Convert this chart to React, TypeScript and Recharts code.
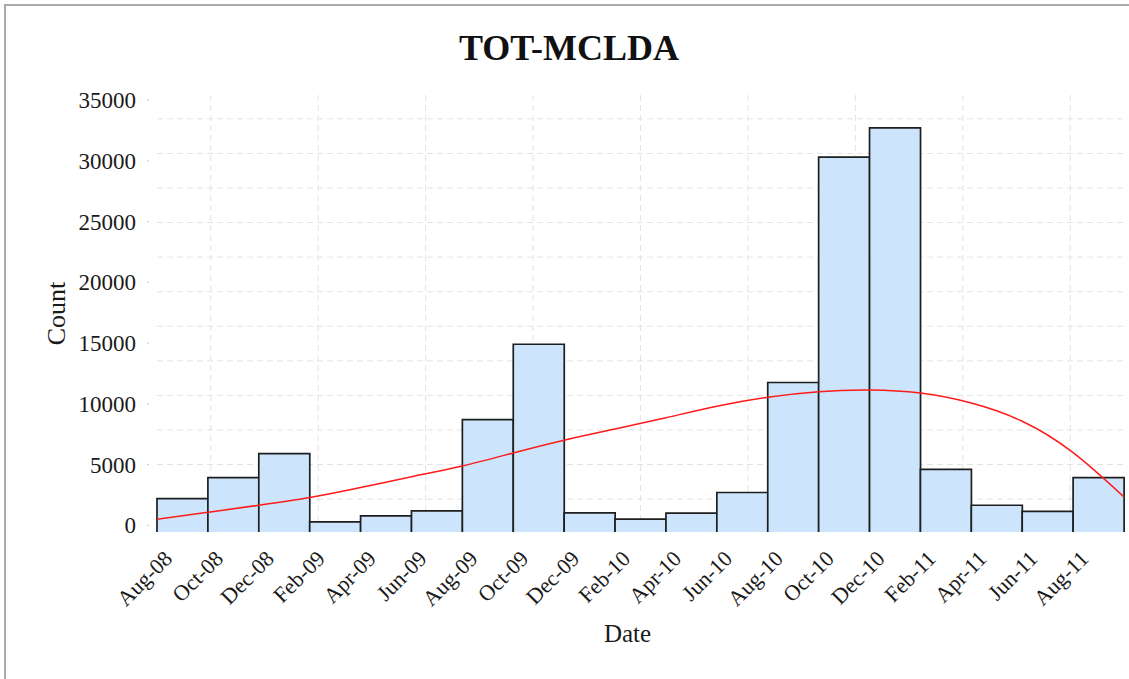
import React from 'react';
import { ComposedChart, Bar, Line, XAxis, YAxis, CartesianGrid, Label } from 'recharts';

// Bi-monthly bins (label = start of each two-month bin)
const periods = [
  'Aug-08', 'Oct-08', 'Dec-08', 'Feb-09', 'Apr-09', 'Jun-09', 'Aug-09', 'Oct-09', 'Dec-09', 'Feb-10',
  'Apr-10', 'Jun-10', 'Aug-10', 'Oct-10', 'Dec-10', 'Feb-11', 'Apr-11', 'Jun-11', 'Aug-11',
];
const counts = [
  2200, 3930, 5900, 280, 770, 1180, 8700, 14900, 1030, 500,
  1000, 2700, 11750, 30300, 32700, 4600, 1650, 1150, 3930,
];

// Fitted trend curve, sampled at the bin boundaries (0 = start of Aug-08)
const trendPositions = [0, 1, 2, 3, 4, 5, 6, 7, 8, 9, 10, 11, 12, 13, 14, 15, 16, 17, 18, 19];
const trendValues = [
  494, 1071, 1650, 2282, 3105, 4000, 4885, 5956, 7002, 7920,
  8850, 9800, 10540, 11000, 11130, 10880, 10060, 8560, 5980, 2330,
];

const binEdgeTicks = [0, 1, 2, 3, 4, 5, 6, 7, 8, 9, 10, 11, 12, 13, 14, 15, 16, 17, 18];
const countTicks = [0, 5000, 10000, 15000, 20000, 25000, 30000, 35000];
const countDomain = [-552, 35412];
const gridCountValues = [2155, 5000, 7845, 10690, 13535, 16380, 19225, 22070, 24915, 27760, 30605, 33450];
const gridPosValues = [1.056, 3.167, 5.278, 7.389, 9.5, 11.611, 13.722, 15.833, 17.944];

const barData = periods.map((p, i) => ({ period: p, count: counts[i] }));
const trendData = trendPositions.map((pos, i) => ({ pos, trend: trendValues[i] }));

const SERIF = "'Times New Roman', 'Liberation Serif', serif";
const TEXT = '#1a1a1a';

// Histogram column: filled down to the plot floor, outlined on top and sides
const HistBar = (props: any) => {
  const { x, y, width, height, background } = props;
  const bottom = background ? background.y + background.height : y + height;
  return (
    <g>
      <rect x={x} y={y} width={width} height={bottom - y} fill="#cce4fc" />
      <path
        d={`M${x},${bottom}V${y}H${x + width}V${bottom}`}
        fill="none"
        stroke="#1e1e1e"
        strokeWidth={1.7}
      />
    </g>
  );
};

const XTick = (props: any) => {
  const { x, y, payload } = props;
  const ax = x + 16.6;
  const ay = y - 2;
  return (
    <text
      x={ax}
      y={ay}
      textAnchor="end"
      transform={`rotate(-45 ${ax} ${ay})`}
      fontFamily={SERIF}
      fontSize={22}
      fill={TEXT}
    >
      {periods[payload.value]}
    </text>
  );
};

const YTick = (props: any) => {
  const { x, y, payload } = props;
  return (
    <g>
      <text
        x={x - 21}
        y={y}
        dy="0.35em"
        textAnchor="end"
        fontFamily={SERIF}
        fontSize={23}
        fill={TEXT}
      >
        {payload.value}
      </text>
      <rect x={x - 9.5} y={y - 0.5} width={1.2} height={1.2} fill="#b0b0b0" />
    </g>
  );
};

export default function App() {
  return (
    <div
      style={{
        position: 'absolute',
        left: 0,
        top: 0,
        width: 1129,
        height: 679,
        overflow: 'hidden',
        background: '#fff',
      }}
    >
      <div
        style={{
          position: 'absolute',
          left: 4,
          top: 4,
          width: 1128,
          height: 700,
          borderLeft: '2px solid #ababab',
          borderTop: '2px solid #ababab',
        }}
      />
      <div
        style={{
          position: 'absolute',
          left: 5,
          top: 30,
          width: 1128,
          textAlign: 'center',
          fontFamily: SERIF,
          fontWeight: 'bold',
          fontSize: 36,
          lineHeight: '36px',
          color: '#111',
        }}
      >
        TOT-MCLDA
      </div>
      <div style={{ position: 'absolute', left: 0, top: 0 }}>
        <ComposedChart
          width={1129}
          height={679}
          data={barData}
          margin={{ top: 95, right: 5, bottom: 0, left: 0 }}
          barCategoryGap={0}
          barGap={0}
        >
          <CartesianGrid
            xAxisId="num"
            yAxisId="y"
            verticalValues={gridPosValues}
            horizontalValues={gridCountValues}
            stroke="#e3e3e3"
            strokeDasharray="6 4"
          />
          <XAxis xAxisId="cat" dataKey="period" type="category" hide />
          <XAxis
            xAxisId="num"
            type="number"
            dataKey="pos"
            domain={[0, 19]}
            ticks={binEdgeTicks}
            interval={0}
            allowDataOverflow
            axisLine={false}
            tickLine={false}
            tickSize={0}
            tickMargin={0}
            height={147}
            tick={<XTick />}
          >
            <Label
              value="Date"
              position="insideBottom"
              offset={67}
              dx={-13}
              style={{ fontFamily: SERIF, fontSize: 25, fill: TEXT }}
            />
          </XAxis>
          <YAxis
            yAxisId="y"
            type="number"
            domain={countDomain}
            ticks={countTicks}
            allowDataOverflow
            width={157}
            axisLine={false}
            tickLine={false}
            tickSize={0}
            tickMargin={0}
            tick={<YTick />}
          >
            <Label
              value="Count"
              angle={-90}
              position="insideLeft"
              offset={56}
              style={{ fontFamily: SERIF, fontSize: 26, fill: TEXT, textAnchor: 'middle' }}
            />
          </YAxis>
          <Bar
            xAxisId="cat"
            yAxisId="y"
            dataKey="count"
            shape={<HistBar />}
            isAnimationActive={false}
          />
          <Line
            xAxisId="num"
            yAxisId="y"
            data={trendData}
            dataKey="trend"
            type="natural"
            stroke="#ff1a1a"
            strokeWidth={1.5}
            dot={false}
            activeDot={false}
            isAnimationActive={false}
          />
        </ComposedChart>
      </div>
    </div>
  );
}
